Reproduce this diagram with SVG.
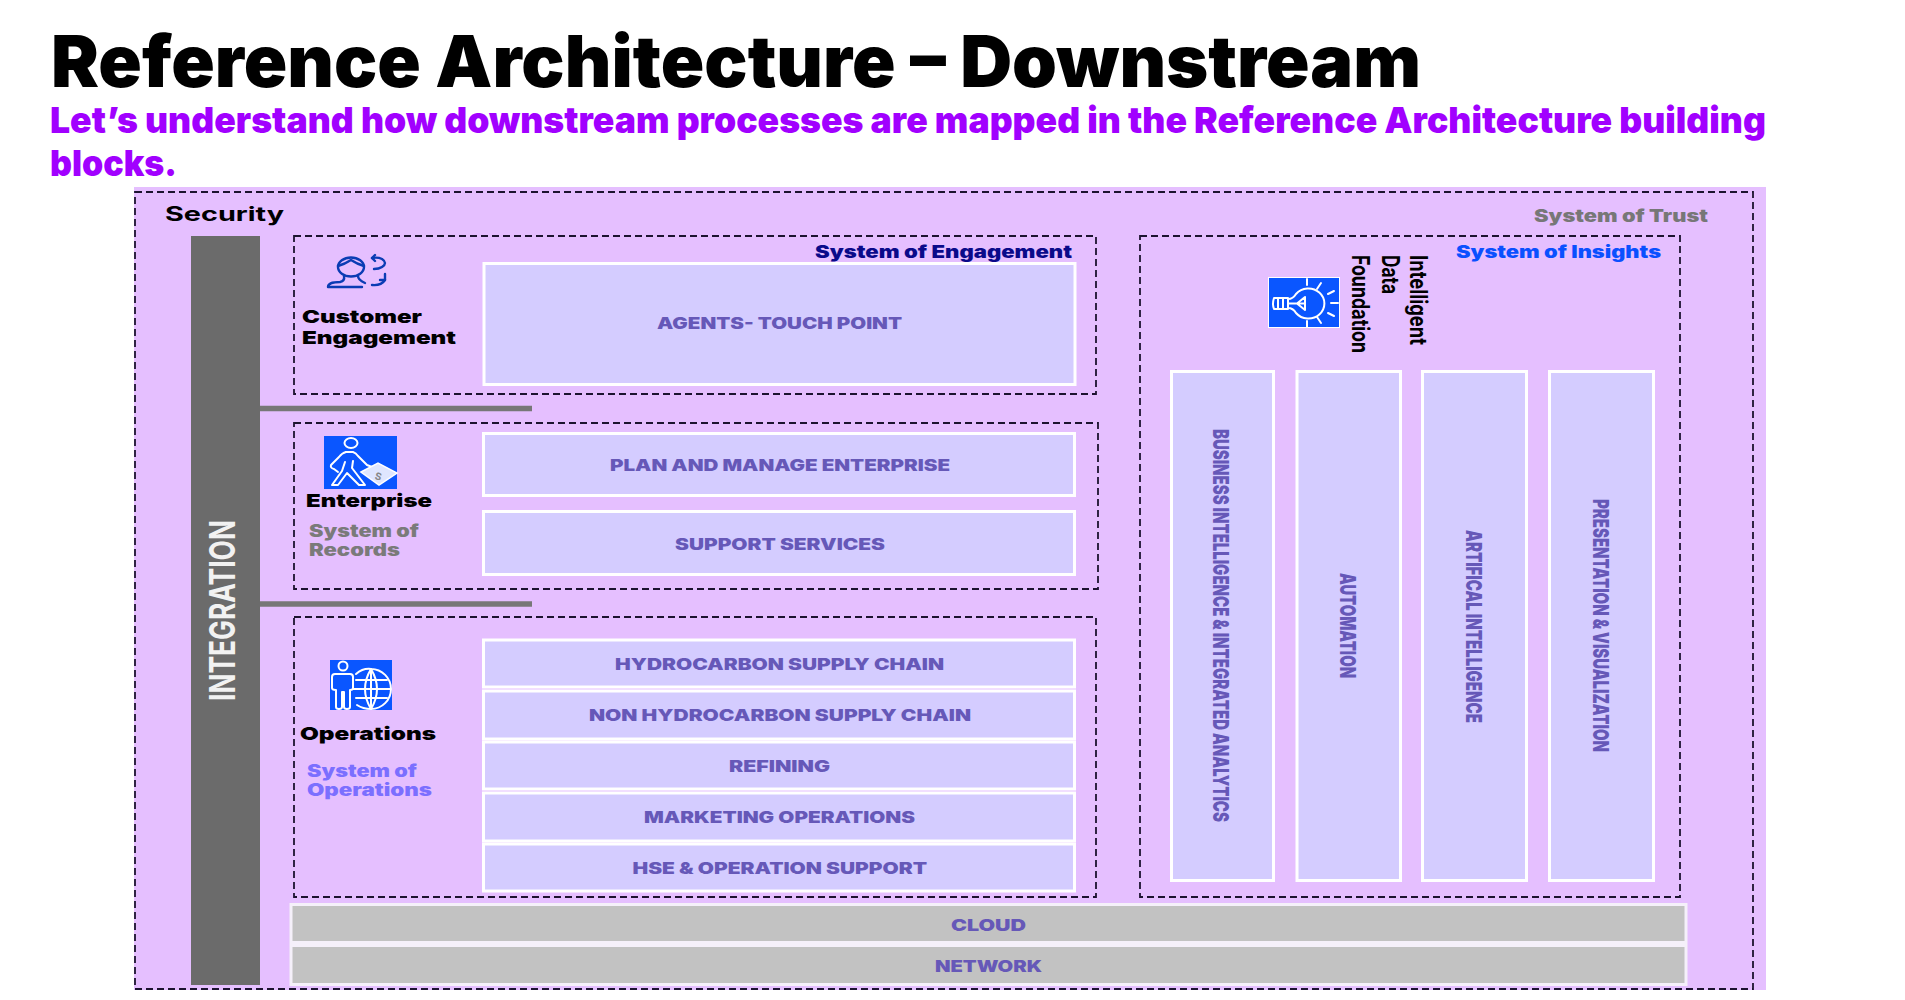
<svg xmlns="http://www.w3.org/2000/svg" width="1905" height="1000" viewBox="0 0 1905 1000">
<style>
text{font-family:Inter,"Liberation Sans",Arial,sans-serif;font-weight:700}
.title{font-size:72px;font-weight:900;fill:#000}
.sub{font-size:36px;font-weight:900;fill:#a100ff}
.dash{fill:none;stroke:#1c1330;stroke-width:1.8;stroke-dasharray:7 4}
.box{fill:#d4ccff;stroke:#fff;stroke-width:3}
.grey{fill:#c2c2c2;stroke:#f5f0fa;stroke-width:3}
.lab{font-size:16px;fill:#6658b8;font-weight:900}
.vlab{font-size:22px;fill:#6658b8;font-weight:900}
.head{font-size:18px;fill:#000;font-weight:900}
.sys{font-size:17px;font-weight:900}
.ic{fill:none;stroke:#fff;stroke-width:2;stroke-linecap:round;stroke-linejoin:round}
.conn{stroke:#777;stroke-width:5.5;fill:none}
</style>
<rect width="1905" height="1000" fill="#fff"/>
<g id="header">
<text class="title" x="51" y="87" textLength="1370" lengthAdjust="spacingAndGlyphs">Reference Architecture – Downstream</text>
<text class="sub" x="50" y="133" textLength="1716" lengthAdjust="spacingAndGlyphs">Let’s understand how downstream processes are mapped in the Reference Architecture building</text>
<text class="sub" x="50" y="176" textLength="127" lengthAdjust="spacingAndGlyphs">blocks.</text>
</g>
<g id="security">
<rect x="134" y="187" width="1632" height="803" fill="#e5bfff"/>
<rect class="dash" x="135" y="192" width="1618" height="797"/>
<text x="165" y="221" font-size="20" font-weight="900" fill="#000" textLength="119" lengthAdjust="spacingAndGlyphs">Security</text>
<text class="sys" x="1534" y="222" fill="#777" textLength="174" lengthAdjust="spacingAndGlyphs">System of Trust</text>
</g>
<g id="connectors">
<line class="conn" x1="260" y1="408.500" x2="532" y2="408.500"/>
<line class="conn" x1="260" y1="604" x2="532" y2="604"/>
</g>
<g id="integration">
<rect x="191" y="236" width="69" height="749" fill="#6b6b6b"/>
<text transform="translate(235 701) rotate(-90)" font-size="35" font-weight="900" fill="#f2f2f2" textLength="181" lengthAdjust="spacingAndGlyphs">INTEGRATION</text>
</g>
<g id="engagement">
<rect class="dash" x="294" y="236" width="802" height="158"/>
<text class="sys" x="815" y="258" fill="#0a0a8a" textLength="257" lengthAdjust="spacingAndGlyphs">System of Engagement</text>
<g fill="none" stroke="#0a3cb4" stroke-width="2.4" stroke-linecap="round" stroke-linejoin="round">
<ellipse cx="351" cy="267" rx="13" ry="9.500"/>
<path d="M338 266q7-2 13-6q6 4 13 6"/>
<path d="M344 276q1 5-4 6q-12 0-12 5h34"/>
<path d="M358 276q0 4 7 7"/>
<path d="M372 258q6-1 10 1q6 4 0 8q-3 2-8 2"/>
<path d="M375 255l-3 3 3 3"/>
<path d="M372 285q9 1 13-5"/>
<path d="M385 274l0 6-5 0"/>
</g>
<text class="head" x="302" y="323" textLength="120" lengthAdjust="spacingAndGlyphs">Customer</text>
<text class="head" x="302" y="344" textLength="154" lengthAdjust="spacingAndGlyphs">Engagement</text>
<rect class="box" x="484" y="263.500" width="591" height="121"/>
<text class="lab" x="657" y="329" textLength="245" lengthAdjust="spacingAndGlyphs">AGENTS- TOUCH POINT</text>
</g>
<g id="enterprise">
<rect class="dash" x="294" y="423" width="804" height="166"/>
<rect x="324" y="436" width="73" height="53" fill="#0a56ff"/>
<g class="ic" stroke-width="2.400">
<ellipse cx="351" cy="443" rx="6.500" ry="5"/>
<path d="M346 452q-4 1-7 5l-8 8q-1 3 3 4l4 3"/>
<path d="M346 452h7q3 1 5 4l9 9 5 2"/>
<path d="M345 462l-3 9-10 14h6l9-12 12 12h6l-13-17 1-7"/>
</g>
<path d="M361 472l17-9 19 10-18 12z" fill="#dfe6ff" stroke="#fff" stroke-width="1.500"/>
<text x="375" y="479" font-size="10" font-weight="900" fill="#888" transform="rotate(15 375 476)">S</text>
<text class="head" x="306" y="507" textLength="126" lengthAdjust="spacingAndGlyphs">Enterprise</text>
<text class="sys" x="309" y="537" fill="#7a7a7a" textLength="110" lengthAdjust="spacingAndGlyphs">System of</text>
<text class="sys" x="309" y="556" fill="#7a7a7a" textLength="91" lengthAdjust="spacingAndGlyphs">Records</text>
<rect class="box" x="483.500" y="433.500" width="591" height="62"/>
<text class="lab" x="610" y="471" textLength="340" lengthAdjust="spacingAndGlyphs">PLAN AND MANAGE ENTERPRISE</text>
<rect class="box" x="483.500" y="511.500" width="591" height="63"/>
<text class="lab" x="675" y="550" textLength="210" lengthAdjust="spacingAndGlyphs">SUPPORT SERVICES</text>
</g>
<g id="operations">
<rect class="dash" x="294" y="617" width="802" height="280"/>
<rect x="330" y="660" width="62" height="50" fill="#0a56ff"/>
<g class="ic" stroke-width="2">
<circle cx="343" cy="666" r="4.500"/>
<path d="M335 674h15q3 0 3 3v11q0 2-3 2v17q0 2-3 2-3 0-3-2v-15h-2v15q0 2-3 2-3 0-3-2v-17q-4 0-4-2v-11q0-3 3-3z"/>
<path d="M356 674q7-6 15-5a20 20 0 0 1 0 40q-8 0-14-4"/>
<path d="M371 669q-12 20 0 40M371 669q12 20 0 40v-40M356 680h31M356 698h31M353 689h37"/>
</g>
<text class="head" x="300" y="740" textLength="136" lengthAdjust="spacingAndGlyphs">Operations</text>
<text class="sys" x="307" y="777" fill="#7b6fff" textLength="110" lengthAdjust="spacingAndGlyphs">System of</text>
<text class="sys" x="307" y="796" fill="#7b6fff" textLength="125" lengthAdjust="spacingAndGlyphs">Operations</text>
<rect class="box" x="483.500" y="640" width="591" height="47"/>
<rect class="box" x="483.500" y="691" width="591" height="48"/>
<rect class="box" x="483.500" y="742" width="591" height="47"/>
<rect class="box" x="483.500" y="793" width="591" height="48"/>
<rect class="box" x="483.500" y="844" width="591" height="47"/>
<text class="lab" x="615" y="670" textLength="329" lengthAdjust="spacingAndGlyphs">HYDROCARBON SUPPLY CHAIN</text>
<text class="lab" x="589" y="721" textLength="382" lengthAdjust="spacingAndGlyphs">NON HYDROCARBON SUPPLY CHAIN</text>
<text class="lab" x="729" y="772" textLength="101" lengthAdjust="spacingAndGlyphs">REFINING</text>
<text class="lab" x="644" y="823" textLength="271" lengthAdjust="spacingAndGlyphs">MARKETING OPERATIONS</text>
<text class="lab" x="632.500" y="874" textLength="294.500" lengthAdjust="spacingAndGlyphs">HSE &amp; OPERATION SUPPORT</text>
</g>
<g id="insights">
<rect class="dash" x="1140" y="236" width="540" height="661"/>
<text class="sys" x="1456" y="258" fill="#0a50ff" textLength="205" lengthAdjust="spacingAndGlyphs">System of Insights</text>
<rect x="1268.500" y="277.500" width="71" height="50" fill="#0a56ff" stroke="#fff" stroke-width="1"/>
<g class="ic" stroke-width="1.800">
<path d="M1288 299q5 0 8-5a16 15 0 1 1 0 19q-3-5-8-5z"/>
<path d="M1274 298h14v11h-14q-2-5 0-11zM1278 298v11M1283 298v11M1288 303.500h16M1305 297v13l-8-6.500z"/>
<path d="M1307 279v6M1307 321v6M1321 283l-4 6M1321 323l-4-6M1334 291l-6 3M1334 316l-6-3M1338 303h-7"/>
</g>
<text transform="translate(1410 255) rotate(90)" font-size="24" font-weight="900" fill="#000" textLength="90" lengthAdjust="spacingAndGlyphs">Intelligent</text>
<text transform="translate(1382 255) rotate(90)" font-size="24" font-weight="900" fill="#000" textLength="39" lengthAdjust="spacingAndGlyphs">Data</text>
<text transform="translate(1352 255) rotate(90)" font-size="24" font-weight="900" fill="#000" textLength="98" lengthAdjust="spacingAndGlyphs">Foundation</text>
<rect class="box" x="1171.500" y="371.500" width="102" height="509"/>
<rect class="box" x="1297" y="371.500" width="103.500" height="509"/>
<rect class="box" x="1422.500" y="371.500" width="104" height="509"/>
<rect class="box" x="1549.500" y="371.500" width="104" height="509"/>
<text class="vlab" transform="translate(1213 429) rotate(90)" textLength="393" lengthAdjust="spacingAndGlyphs">BUSINESS INTELLIGENCE &amp; INTEGRATED ANALYTICS</text>
<text class="vlab" transform="translate(1340 573) rotate(90)" textLength="105" lengthAdjust="spacingAndGlyphs">AUTOMATION</text>
<text class="vlab" transform="translate(1466 530) rotate(90)" textLength="193" lengthAdjust="spacingAndGlyphs">ARTIFICAL INTELLIGENCE</text>
<text class="vlab" transform="translate(1593 499) rotate(90)" textLength="253" lengthAdjust="spacingAndGlyphs">PRESENTATION &amp; VISUALIZATION</text>
</g>
<g id="cloud">
<rect class="grey" x="291" y="904.500" width="1395" height="38"/>
<text class="lab" x="951" y="931" textLength="75" lengthAdjust="spacingAndGlyphs">CLOUD</text>
</g>
<g id="network">
<rect class="grey" x="291" y="945.500" width="1395" height="39"/>
<text class="lab" x="935" y="972" textLength="107" lengthAdjust="spacingAndGlyphs">NETWORK</text>
</g>
</svg>
